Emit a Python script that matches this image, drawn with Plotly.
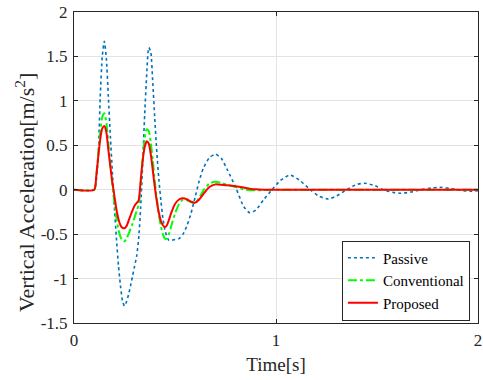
import plotly.graph_objects as go

time_s = [0.0, 0.10, 0.11, 0.12, 0.13, 0.14, 0.15, 0.16, 0.17, 0.18, 0.19,
          0.20, 0.21, 0.22, 0.23, 0.24, 0.25, 0.26, 0.27, 0.28, 0.29,
          0.30, 0.31, 0.32, 0.33, 0.34, 0.35, 0.36, 0.37, 0.38, 0.39,
          0.40, 0.41, 0.42, 0.43, 0.44, 0.45, 0.46, 0.47, 0.48, 0.50,
          0.52, 0.54, 0.56, 0.58, 0.60, 0.62, 0.64, 0.67, 0.70, 0.73,
          0.76, 0.80, 0.84, 0.87, 0.90, 0.94, 0.98, 1.02, 1.07, 1.12,
          1.17, 1.21, 1.26, 1.30, 1.35, 1.40, 1.44, 1.49, 1.53, 1.58,
          1.62, 1.67, 1.72, 1.77, 1.81, 1.86, 1.90, 1.94, 1.97, 2.00]

passive = [0.0, 0.0, 0.10, 0.38, 1.05, 1.50, 1.67, 1.48, 1.05, 0.60, 0.20,
           -0.20, -0.55, -0.85, -1.08, -1.25, -1.31, -1.26, -1.18, -1.08, -0.97,
           -0.86, -0.75, -0.55, -0.20, 0.30, 0.85, 1.30, 1.60, 1.55, 1.20,
           0.80, 0.42, 0.12, -0.12, -0.32, -0.45, -0.53, -0.57, -0.57, -0.56,
           -0.55, -0.50, -0.40, -0.26, -0.08, 0.10, 0.24, 0.36, 0.40, 0.35,
           0.22, 0.03, -0.19, -0.26, -0.23, -0.11, 0.00, 0.10, 0.165, 0.10,
           0.00, -0.07, -0.105, -0.07, 0.00, 0.06, 0.072, 0.045, 0.00, -0.03,
           -0.04, -0.025, 0.00, 0.02, 0.027, 0.015, 0.00, -0.015, -0.018, -0.012]

conventional = [0.0, 0.0, 0.15, 0.40, 0.65, 0.82, 0.86, 0.76, 0.52, 0.28, 0.05,
                -0.15, -0.32, -0.45, -0.53, -0.57, -0.58, -0.55, -0.50, -0.44, -0.38,
                -0.31, -0.24, -0.17, 0.05, 0.35, 0.58, 0.68, 0.66, 0.53, 0.33,
                0.10, -0.10, -0.28, -0.41, -0.50, -0.55, -0.55, -0.50, -0.42, -0.27,
                -0.16, -0.11, -0.12, -0.14, -0.15, -0.09, -0.01, 0.07, 0.09, 0.075,
                0.055, 0.03, 0.005, -0.005, -0.006, -0.004, 0.0, 0.0, 0.0, 0.0,
                0.0, 0.0, 0.0, 0.0, 0.0, 0.0, 0.0, 0.0, 0.0, 0.0,
                0.0, 0.0, 0.0, 0.0, 0.0, 0.0, 0.0, 0.0, 0.0, 0.0]

proposed = [0.0, 0.0, 0.15, 0.37, 0.57, 0.69, 0.716, 0.65, 0.45, 0.26, 0.08,
            -0.07, -0.22, -0.33, -0.40, -0.43, -0.434, -0.41, -0.35, -0.29, -0.23,
            -0.18, -0.15, -0.12, 0.10, 0.33, 0.48, 0.545, 0.52, 0.40, 0.22,
            0.03, -0.13, -0.26, -0.35, -0.40, -0.42, -0.40, -0.34, -0.27, -0.16,
            -0.11, -0.097, -0.11, -0.135, -0.145, -0.11, -0.05, 0.03, 0.06, 0.055,
            0.05, 0.04, 0.025, 0.012, 0.004, 0.0, 0.0, 0.0, 0.0, 0.0,
            0.0, 0.0, 0.0, 0.0, 0.0, 0.0, 0.0, 0.0, 0.0, 0.0,
            0.0, 0.0, 0.0, 0.0, 0.0, 0.0, 0.0, 0.0, 0.0, 0.0]

series_names = ["Passive", "Conventional", "Proposed"]
x_ticks = [0, 1, 2]
y_ticks = [-1.5, -1, -0.5, 0, 0.5, 1, 1.5, 2]
y_tick_text = ["-1.5", "-1", "-0.5", "0", "0.5", "1", "1.5", "2"]

font_family = "Liberation Serif, Times New Roman, Times, serif"
ink = "#262626"

fig = go.Figure()
fig.add_trace(go.Scatter(x=time_s, y=passive, name=series_names[0], mode="lines",
                         line=dict(color="#0072BD", width=1.6, dash="dot", shape="spline", smoothing=0.6)))
fig.add_trace(go.Scatter(x=time_s, y=conventional, name=series_names[1], mode="lines",
                         line=dict(color="#00FF00", width=2, dash="dashdot", shape="spline", smoothing=0.6)))
fig.add_trace(go.Scatter(x=time_s, y=proposed, name=series_names[2], mode="lines",
                         line=dict(color="#FF0000", width=2, shape="spline", smoothing=0.6)))

axis_common = dict(showline=True, linecolor=ink, linewidth=1, mirror="ticks",
                   ticks="inside", ticklen=4, tickcolor=ink, automargin=False,
                   showgrid=True, gridcolor="#e3e3e3", gridwidth=1,
                   zeroline=False, tickfont=dict(family=font_family, size=17, color=ink))

fig.update_xaxes(range=[0, 2], tickvals=x_ticks, ticktext=[str(v) for v in x_ticks],
                 ticklabelstandoff=2,
                 title=dict(text="Time[s]", font=dict(family=font_family, size=19, color=ink),
                            standoff=8),
                 **axis_common)
fig.update_yaxes(range=[-1.5, 2], tickvals=y_ticks, ticktext=y_tick_text,
                 ticklabelstandoff=2, **axis_common)

fig.add_annotation(text="Vertical Acceleration[m/s<sup>2</sup>]", textangle=-90,
                   xref="paper", yref="paper", x=-0.12, y=0.42,
                   xanchor="center", yanchor="middle", showarrow=False,
                   font=dict(family=font_family, size=22, color=ink))

fig.update_layout(
    width=483, height=380,
    margin=dict(l=74, r=5, t=12, b=57),
    paper_bgcolor="white", plot_bgcolor="white",
    font=dict(family=font_family),
    showlegend=True,
    legend=dict(x=0.98, y=0.008, xanchor="right", yanchor="bottom",
                bgcolor="white", bordercolor=ink, borderwidth=1,
                font=dict(family=font_family, size=15, color="black"),
                tracegroupgap=0, itemwidth=30),
)

fig.write_html("out.html", post_script="document.body.style.margin='0';",
               config={"displayModeBar": False})
